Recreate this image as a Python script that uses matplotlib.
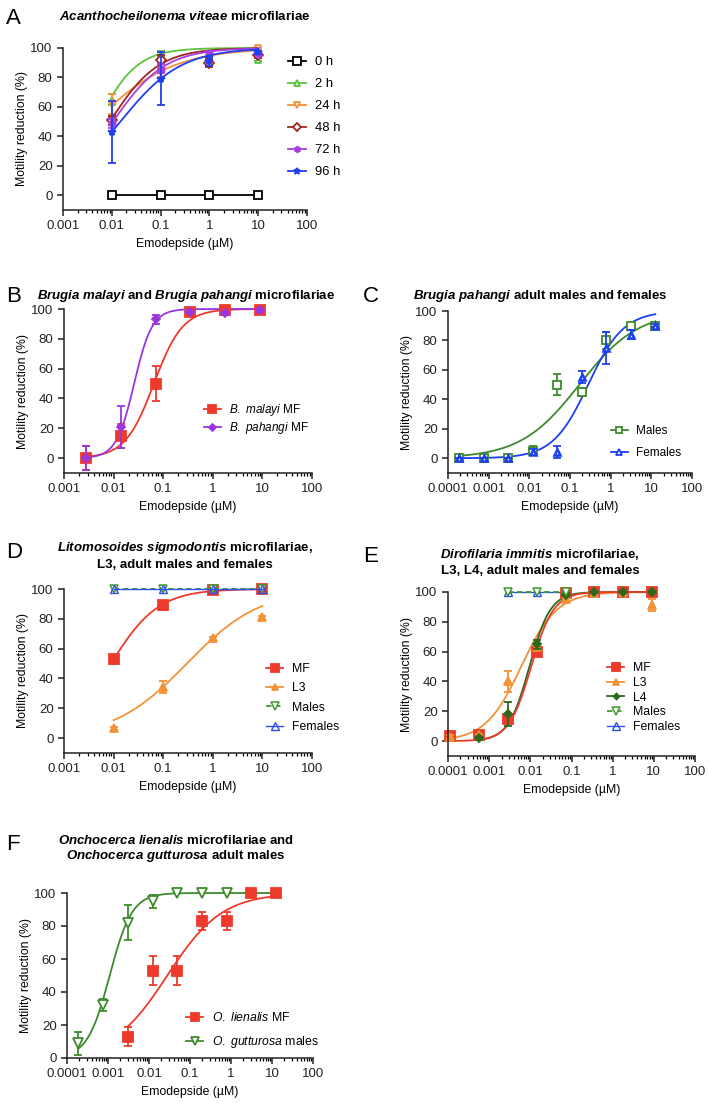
import numpy as np
import matplotlib
matplotlib.use("Agg")
import matplotlib.pyplot as plt

plt.rcParams['font.family'] = ['Liberation Sans', 'DejaVu Sans']
plt.rcParams['mathtext.fontset'] = 'custom'
plt.rcParams['mathtext.rm'] = 'Liberation Sans'
plt.rcParams['mathtext.it'] = 'Liberation Sans:italic'
plt.rcParams['mathtext.bf'] = 'Liberation Sans:bold'
plt.rcParams['mathtext.bfit'] = 'Liberation Sans:bold:italic'

RED = '#ee3a2b'
ORANGE = '#f39237'
GREEN = '#3d8b2c'
DKGREEN = '#2b6a1c'
BLUE = '#1c3ff2'
PURPLE = '#9a35e0'

# --- A: Acanthocheilonema viteae microfilariae
a_x = [0.01, 0.1, 1, 10]
a_0h = [0, 0, 0, 0]
a_2h = [65, 96, 96, 92]
a_2h_err = [4, 2, 2, 1]
a_24h = [62, 83, 96, 100]
a_24h_err = [7, 3, 2, 1]
a_48h = [51, 92, 90, 95]
a_48h_err = [3, 3, 3, 2]
a_72h = [49, 86, 96, 96]
a_72h_err = [3, 3, 2, 1]
a_96h = [43, 79, 91, 97]
a_96h_err = [21, 18, 3, 1]
# fitted (EC50, hill) per time point
a_fit = {'2 h': (0.0051, 1.07), '24 h': (0.0043, 0.53), '48 h': (0.0091, 0.87),
         '72 h': (0.0105, 0.81), '96 h': (0.015, 0.7)}

# --- B: Brugia microfilariae
b_x = [0.0028, 0.014, 0.07, 0.35, 1.75, 8.75]
b_malayi = [0, 15, 50, 98, 99.5, 99]
b_malayi_err = [8, 8, 12, 1, 1, 1]
b_pahangi = [0, 21, 93, 98, 97, 99]
b_pahangi_err = [8, 14, 3, 1, 1, 1]
b_fit = {'malayi': (0.065, 1.5), 'pahangi': (0.026, 2.4)}

# --- C: Brugia pahangi adults
c_x = [0.00019, 0.00076, 0.00305, 0.0122, 0.049, 0.195, 0.78, 3.125, 12.5]
c_males = [0, 0, 0, 5, 50, 45, 80, 90, 90]
c_males_err = [0, 0, 0, 3, 7, 3, 6, 1, 1]
c_females = [0, 0, 0, 4, 4, 55, 75, 84, 90]
c_females_err = [0, 0, 0, 2, 4, 4, 11, 3, 1]
c_fit = {'males': (0.17, 0.6), 'females': (0.28, 1.0)}

# --- D: Litomosoides sigmodontis
d_x = [0.01, 0.1, 1, 10]
d_mf = [53, 89, 99, 100]
d_mf_err = [3, 3, 1, 1]
d_l3 = [6.5, 34, 67, 81]
d_l3_err = [1, 4, 1, 1]
d_males = [100, 100, 100, 100]
d_females = [100, 100, 100, 100]
d_fit = {'MF': (0.0088, 0.9), 'L3': (0.3, 0.585)}

# --- E: Dirofilaria immitis
e_x = [0.000115, 0.000576, 0.00288, 0.0144, 0.072, 0.36, 1.8, 9]
e_mf = [3.5, 4, 15, 60, 99, 100, 100, 100]
e_mf_err = [1, 3, 3, 3, 1, 1, 1, 1]
e_l3 = [3, 4, 40, 63, 95, 99.5, 100, 91]
e_l3_err = [1, 1, 7, 2, 1, 1, 1, 4]
e_l4_x = [0.000576, 0.00288, 0.0144, 0.072, 0.36, 1.8, 9]
e_l4 = [2, 18, 65, 98, 100, 100, 100]
e_l4_err = [1, 8, 3, 1, 0, 0, 0]
e_adult_x = [0.00288, 0.0144, 0.072]
e_males = [100, 100, 100]
e_females = [100, 100, 100]
e_fit = {'MF': (0.0105, 1.6), 'L3': (0.006, 1.0), 'L4': (0.0095, 1.7)}

# --- F: Onchocerca
f_lien_x = [0.00305, 0.0122, 0.049, 0.195, 0.78, 3.125, 12.5]
f_lien = [13, 53, 53, 83, 83, 100, 100]
f_lien_err = [5.5, 9, 9, 5.5, 5.5, 1, 1]
f_gutt_x = [0.00019, 0.00076, 0.00305, 0.0122, 0.049, 0.195, 0.78]
f_gutt = [9, 32, 82, 95, 100, 100, 100]
f_gutt_err = [7, 3.5, 10.5, 4, 0, 0, 0]
f_fit = {'lien': (0.028, 0.65), 'gutt': (0.0011, 1.6)}

LOG_TICKS_3 = [0.001, 0.01, 0.1, 1, 10, 100]
LOG_LABELS_3 = ['0.001', '0.01', '0.1', '1', '10', '100']
LOG_TICKS_4 = [0.0001] + LOG_TICKS_3
LOG_LABELS_4 = ['0.0001'] + LOG_LABELS_3

W, H = 709, 1103
fig = plt.figure(figsize=(W / 100, H / 100), dpi=100)


def make_ax(left, right, top, bottom, xmin, ymin=-10):
    ax = fig.add_axes([left / W, 1 - bottom / H, (right - left) / W, (bottom - top) / H])
    ax.set_xscale('log')
    ax.set_xlim(xmin, 100)
    ax.set_ylim(ymin, 100)
    ax.set_yticks([0, 20, 40, 60, 80, 100])
    if xmin < 0.001:
        ax.set_xticks(LOG_TICKS_4, LOG_LABELS_4)
    else:
        ax.set_xticks(LOG_TICKS_3, LOG_LABELS_3)
    ax.xaxis.set_minor_locator(matplotlib.ticker.LogLocator(base=10, subs=np.arange(2, 10)))
    ax.xaxis.set_minor_formatter(matplotlib.ticker.NullFormatter())
    for s in ('top', 'right'):
        ax.spines[s].set_visible(False)
    for s in ('left', 'bottom'):
        ax.spines[s].set_linewidth(1.1)
        ax.spines[s].set_color('#222222')
    ax.tick_params(axis='both', which='major', labelsize=9.5, length=4, width=1.1, colors='#222222')
    ax.tick_params(axis='x', which='minor', length=2.5, width=0.9)
    ax.set_xlabel('Emodepside (µM)', fontsize=8.8, labelpad=4)
    ax.set_ylabel('Motility reduction (%)', fontsize=8.8, labelpad=1.5)
    return ax


def curve(ax, x0, x1, ec50, hill, color, ls='-'):
    xs = np.logspace(np.log10(x0), np.log10(x1), 200)
    ys = 100 / (1 + (ec50 / xs) ** hill)
    ax.plot(xs, ys, color=color, lw=1.3, ls=ls, clip_on=False)


def points(ax, x, y, err, color, marker, label, open_=False, ms=5.5, ls='-', mew=1.3):
    ax.errorbar(x, y, yerr=err, fmt='none', ecolor=color, elinewidth=1.3, capsize=3,
                capthick=1.3, clip_on=False)
    ax.plot(x, y, ls='none', marker=marker, ms=ms, color=color,
            mfc='white' if open_ else color, mec=color, mew=mew, clip_on=False)
    # legend proxy
    ax.plot([], [], ls=ls, lw=1.3, marker=marker, ms=ms - 1, color=color,
            mfc='white' if open_ else color, mec=color, mew=1.3, label=label)


def title(x, y, lines, gap=16):
    for i, t in enumerate(lines):
        fig.text(x / W, 1 - (y + i * gap) / H, t, ha='center', va='center',
                 fontsize=9.5, fontweight='bold')


def letter(x, y, s):
    fig.text(x / W, 1 - y / H, s, ha='left', va='center', fontsize=16)


def legend(ax, x, y, spacing, size=8.8):
    return ax.legend(loc='upper left', bbox_to_anchor=(x / W, 1 - y / H),
                     bbox_transform=fig.transFigure, frameon=False, fontsize=size,
                     handlelength=1.4, handletextpad=0.7, labelspacing=spacing,
                     borderpad=0, borderaxespad=0)


# Panel A
ax = make_ax(63, 307, 48, 210, 0.001)
ax.plot(a_x, a_0h, color='black', lw=1.3, marker='s', ms=5.5, mfc='white', mew=1.3,
        label='0 h', clip_on=False)
series_a = [('2 h', a_2h, a_2h_err, '#5cc23b', '^'),
            ('24 h', a_24h, a_24h_err, '#f5913a', 'v'),
            ('48 h', a_48h, a_48h_err, '#a3261d', 'D'),
            ('72 h', a_72h, a_72h_err, '#a541e0', 'h'),
            ('96 h', a_96h, a_96h_err, '#1f3ff0', '*')]
for lab, y, e, c, m in series_a:
    ec50, h = a_fit[lab]
    curve(ax, a_x[0], a_x[-1], ec50, h, c)
    op = m in ('^', 'v', 'D')
    points(ax, a_x, y, e, c, m, lab, open_=op, ms=5 if m != '*' else 6)
legend(ax, 288, 56, 0.76, size=9.4)
letter(6, 18, 'A')
title(185, 16, [r'$\mathbfit{Acanthocheilonema\ viteae}$ microfilariae'])

# Panel B
ax = make_ax(64, 312, 309, 473, 0.001)
curve(ax, b_x[0], b_x[-1], *b_fit['malayi'], RED)
curve(ax, b_x[0], b_x[-1], *b_fit['pahangi'], PURPLE)
points(ax, b_x, b_malayi, b_malayi_err, RED, 's', r'$\mathit{B.\ malayi}$ MF', ms=6.5)
points(ax, b_x, b_pahangi, b_pahangi_err, PURPLE, 'D', r'$\mathit{B.\ pahangi}$ MF', ms=4.5)
legend(ax, 204, 402, 0.15, size=8.5)
letter(6, 296, 'B')
title(186, 296, [r'$\mathbfit{Brugia\ malayi}$ and $\mathbfit{Brugia\ pahangi}$ microfilariae'])

# Panel C
ax = make_ax(448, 692, 311, 473, 0.0001)
curve(ax, c_x[0], c_x[-1], *c_fit['males'], GREEN)
curve(ax, c_x[0], c_x[-1], *c_fit['females'], BLUE)
points(ax, c_x, c_males, c_males_err, GREEN, 's', 'Males', open_=True, ms=6)
points(ax, c_x, c_females, c_females_err, BLUE, '^', 'Females', open_=True, ms=5, mew=1.8)
legend(ax, 611, 425, 0.86, size=8.5)
letter(363, 296, 'C')
title(540, 296, [r'$\mathbfit{Brugia\ pahangi}$ adult males and females'])

# Panel D
ax = make_ax(64, 312, 589, 753, 0.001)
curve(ax, d_x[0], d_x[-1], *d_fit['MF'], RED)
curve(ax, d_x[0], d_x[-1], *d_fit['L3'], ORANGE)
points(ax, d_x, d_mf, d_mf_err, RED, 's', 'MF', ms=6.5)
points(ax, d_x, d_l3, d_l3_err, ORANGE, '^', 'L3', ms=5.5)
ax.plot(d_x, d_males, color='#3d9a2c', lw=1.3, ls=(0, (3, 2)), marker='v', ms=5.5,
        mfc='white', mew=1.1, label='Males', clip_on=False)
ax.plot(d_x, d_females, color='#3050ea', lw=1.0, marker='^', ms=5.5,
        mfc='none', mew=1.0, label='Females', clip_on=False)
legend(ax, 266, 663, 0.6)
letter(6, 553, 'D')
title(185, 548, [r'$\mathbfit{Litomosoides\ sigmodontis}$ microfilariae,',
                 'L3, adult males and females'], gap=17.5)

# Panel E
ax = make_ax(448, 695, 592, 756, 0.0001)
curve(ax, e_x[0], e_x[-1], *e_fit['L3'], ORANGE)
curve(ax, e_l4_x[0], e_l4_x[-1], *e_fit['L4'], DKGREEN)
curve(ax, e_x[0], e_x[-1], *e_fit['MF'], RED)
points(ax, e_x, e_mf, e_mf_err, RED, 's', 'MF', ms=6.5)
points(ax, e_x, e_l3, e_l3_err, ORANGE, '^', 'L3', ms=5.5)
points(ax, e_l4_x, e_l4, e_l4_err, DKGREEN, 'D', 'L4', ms=4)
ax.plot(e_adult_x, e_males, color='#3d9a2c', lw=1.3, ls=(0, (3, 2)), marker='v', ms=5.5,
        mfc='white', mew=1.1, label='Males', clip_on=False)
ax.plot(e_adult_x, e_females, color='#3050ea', lw=1.0, marker='^', ms=5.5,
        mfc='none', mew=1.0, label='Females', clip_on=False)
ax.lines[-1].set_zorder(ax.lines[-2].get_zorder() - 0.1)
legend(ax, 607, 662, 0.23)
letter(363, 556, 'E')
title(540, 554, [r'$\mathbfit{Dirofilaria\ immitis}$ microfilariae,',
                 'L3, L4, adult males and females'], gap=17.5)

# Panel F
ax = make_ax(67, 313, 893, 1058, 0.0001, ymin=0)
curve(ax, f_lien_x[0], f_lien_x[-1], *f_fit['lien'], RED)
curve(ax, f_gutt_x[0], 12.5, *f_fit['gutt'], GREEN)
points(ax, f_lien_x, f_lien, f_lien_err, RED, 's', r'$\mathit{O.\ lienalis}$ MF', ms=6.5)
points(ax, f_gutt_x, f_gutt, f_gutt_err, GREEN, 'v', r'$\mathit{O.\ gutturosa}$ males',
       open_=True, ms=6.5)
legend(ax, 186, 1011, 0.8)
letter(6, 845, 'F')
title(176, 841, [r'$\mathbfit{Onchocerca\ lienalis}$ microfilariae and',
                 r'$\mathbfit{Onchocerca\ gutturosa}$ adult males'], gap=15)

fig.savefig('out.png', dpi=100, facecolor='white')
